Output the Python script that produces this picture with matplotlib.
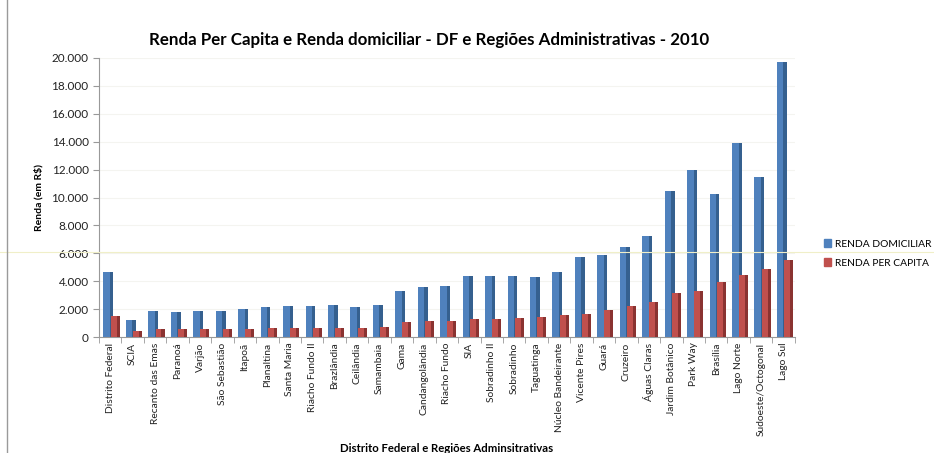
import numpy as np
import matplotlib
matplotlib.use("Agg")
import matplotlib.pyplot as plt
from matplotlib.ticker import FuncFormatter
from matplotlib.patches import Patch
from matplotlib.lines import Line2D

plt.rcParams['font.family'] = ['Lato', 'DejaVu Sans']

regioes = [
    "Distrito Federal", "SCIA", "Recanto das Emas", "Paranoá", "Varjão",
    "São Sebastião", "Itapoã", "Planaltina", "Santa Maria", "Riacho Fundo II",
    "Brazlândia", "Ceilândia", "Samambaia", "Gama", "Candangolândia",
    "Riacho Fundo", "SIA", "Sobradinho II", "Sobradinho", "Taguatinga",
    "Núcleo Bandeirante", "Vicente Pires", "Guará", "Cruzeiro", "Águas Claras",
    "Jardim Botânico", "Park Way", "Brasília", "Lago Norte",
    "Sudoeste/Octogonal", "Lago Sul",
]
renda_domiciliar = [
    4640, 1220, 1890, 1820, 1890, 1890, 1980, 2120, 2240, 2250,
    2290, 2170, 2290, 3320, 3610, 3680, 4370, 4370, 4390, 4320,
    4680, 5710, 5860, 6480, 7240, 10490, 12000, 10250, 13930, 11490, 19730,
]
renda_per_capita = [
    1500, 430, 560, 540, 560, 570, 580, 620, 640, 670,
    670, 670, 700, 1080, 1120, 1170, 1320, 1320, 1360, 1400,
    1600, 1670, 1910, 2220, 2530, 3150, 3300, 3950, 4430, 4900, 5550,
]

azul, azul_esc = "#4F81BD", "#35608F"
verm, verm_esc = "#C0504D", "#8A3331"

fig = plt.figure(figsize=(9.34, 4.53), dpi=100)
ax = fig.add_axes([0.106, 0.256, 0.745, 0.616])

x = np.arange(len(regioes))
w_d, w_p = 0.44, 0.40
off_d, off_p = -0.08, 0.22

ax.bar(x + off_d, renda_domiciliar, w_d, color=azul, zorder=2)
ax.bar(x + off_d + w_d * 0.33, renda_domiciliar, w_d * 0.34, color=azul_esc, zorder=2)
ax.bar(x + off_p, renda_per_capita, w_p, color=verm, zorder=3)
ax.bar(x + off_p + w_p * 0.33, renda_per_capita, w_p * 0.34, color=verm_esc, zorder=3)

ax.set_xlim(-0.5, len(regioes) - 0.5)
ax.set_ylim(0, 20000)
ax.set_yticks(np.arange(0, 20001, 2000))
ax.yaxis.set_major_formatter(FuncFormatter(lambda v, p: f"{int(v):,}".replace(",", ".")))
ax.set_xticks(x)
ax.set_xticklabels(regioes, rotation=90, fontsize=7.4, color="#222222")
ax.set_xticks(np.arange(-0.5, len(regioes), 1), minor=True)
ax.tick_params(axis="x", which="major", length=0, pad=4)
ax.tick_params(axis="x", which="minor", length=4, color="#999999")
ax.tick_params(axis="y", labelsize=8.5, length=4, color="#999999", labelcolor="#222222")

for s in ["top", "right"]:
    ax.spines[s].set_visible(False)
ax.spines["left"].set_color("#999999")
ax.spines["bottom"].set_color("#999999")
ax.grid(axis="y", color="#f4f4f0", linewidth=0.8, zorder=0)

ax.set_title("Renda Per Capita e Renda domiciliar - DF e Regiões Administrativas - 2010",
             fontsize=12.2, fontweight="bold", pad=9, x=0.475)
ax.set_ylabel("Renda (em R$)", fontsize=7.5, fontweight="bold", labelpad=6)
ax.set_xlabel("Distrito Federal e Regiões Adminsitrativas", fontsize=8.2,
              fontweight="bold", labelpad=5)

handles = [Patch(color=azul), Patch(color=verm)]
fig.legend(handles, ["RENDA DOMICILIAR", "RENDA PER CAPITA"],
           loc="upper left", bbox_to_anchor=(0.872, 0.492), frameon=False,
           fontsize=7.4, handlelength=0.7, handleheight=0.7, handletextpad=0.4,
           labelspacing=0.95)

# faint artefact lines seen in the original screenshot
fig.add_artist(Line2D([0, 1], [1 - 252 / 453] * 2, color="#f0efc8", linewidth=0.8))
fig.add_artist(Line2D([7 / 934] * 2, [0, 1], color="#9a9a9a", linewidth=1.0))

fig.savefig("out.png", dpi=100)
